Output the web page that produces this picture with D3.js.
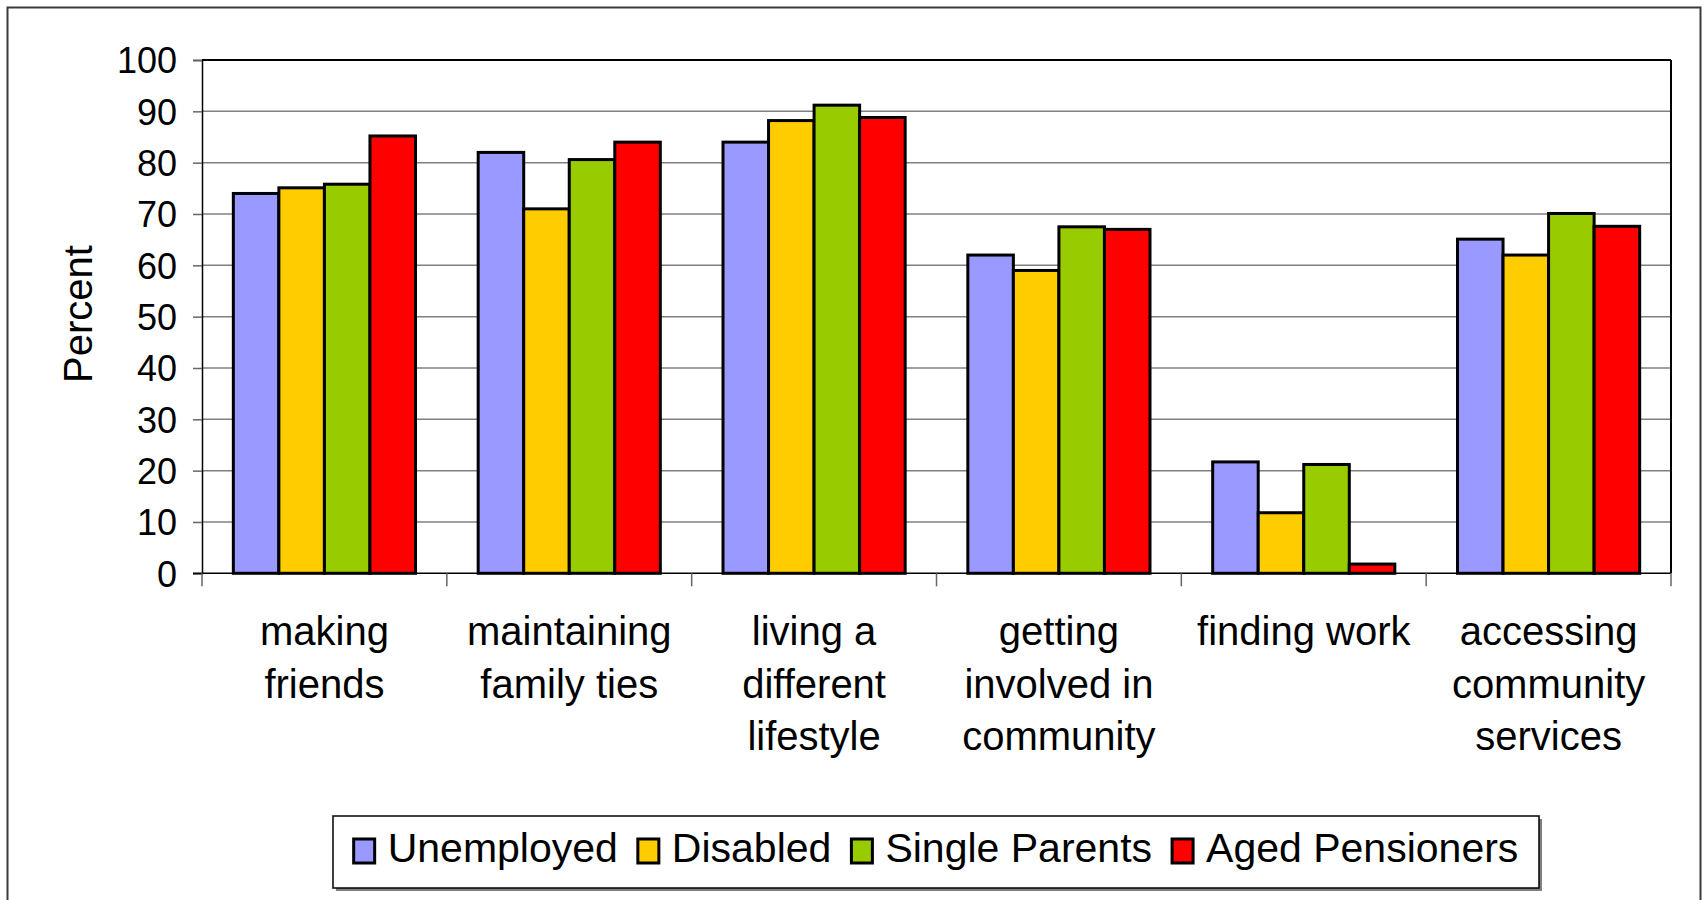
<!DOCTYPE html>
<html>
<head>
<meta charset="utf-8">
<script src="https://cdn.jsdelivr.net/npm/d3@7/dist/d3.min.js"></script>
<style>
  html, body { margin: 0; padding: 0; background: #fff; }
  svg { display: block; }
  text { font-family: "Liberation Sans", Arial, sans-serif; fill: #000; }
</style>
</head>
<body>
<svg id="chart" width="1703" height="900"></svg>
<script>
const categories = [
  ["making", "friends"],
  ["maintaining", "family ties"],
  ["living a", "different", "lifestyle"],
  ["getting", "involved in", "community"],
  ["finding work"],
  ["accessing", "community", "services"]
];
const seriesNames = ["Unemployed", "Disabled", "Single Parents", "Aged Pensioners"];
const seriesColors = ["#9999FF", "#FFCC00", "#99CC00", "#FF0000"];
const unemployed    = [74.0, 82.0, 84.0, 62.0, 21.7, 65.1];
const disabled      = [75.1, 71.0, 88.2, 59.0, 11.8, 62.0];
const singleParents = [75.8, 80.6, 91.2, 67.5, 21.2, 70.1];
const agedPensioners= [85.2, 84.0, 88.8, 67.0, 1.8, 67.6];
const yTicks = [0, 10, 20, 30, 40, 50, 60, 70, 80, 90, 100];

const seriesValues = [unemployed, disabled, singleParents, agedPensioners];
const catKeys = categories.map(c => c.join(" "));

const svg = d3.select("#chart");
const plot = { left: 202, right: 1671, top: 60, bottom: 573.3 };

// outer border
svg.append("rect")
  .attr("x", 7.5).attr("y", 7.5)
  .attr("width", 1693).attr("height", 900)
  .attr("fill", "#fff").attr("stroke", "#3a3a3a").attr("stroke-width", 2);

const x0 = d3.scaleBand().domain(catKeys).range([plot.left, plot.right]).padding(0);
const bw = x0.bandwidth();
const pad = bw * 0.128;
const x1 = d3.scaleBand().domain(seriesNames).range([pad, bw - pad]).padding(0);
const y = d3.scaleLinear().domain([0, 100]).range([plot.bottom, plot.top]);

// gridlines
svg.append("g").selectAll("line").data(yTicks.filter(t => t > 0 && t < 100)).join("line")
  .attr("x1", plot.left).attr("x2", plot.right)
  .attr("y1", d => y(d)).attr("y2", d => y(d))
  .attr("stroke", "#808080").attr("stroke-width", 1.5);

// plot border top / right
svg.append("line").attr("x1", plot.left).attr("x2", plot.right)
  .attr("y1", y(100)).attr("y2", y(100)).attr("stroke", "#000").attr("stroke-width", 2);
svg.append("line").attr("x1", plot.right).attr("x2", plot.right)
  .attr("y1", y(100)).attr("y2", y(0)).attr("stroke", "#000").attr("stroke-width", 2);

// y axis
const yAxis = d3.axisLeft(y).tickValues(yTicks).tickSize(9).tickPadding(16).tickFormat(d3.format("d"));
const gy = svg.append("g").attr("transform", `translate(${plot.left},0)`).call(yAxis);
gy.select(".domain").attr("stroke", "#000").attr("stroke-width", 1.5);
gy.selectAll(".tick line").attr("stroke", "#666").attr("stroke-width", 1.5);
gy.selectAll(".tick text").attr("font-size", 36).attr("font-family", '"Liberation Sans", Arial, sans-serif').attr("dy", "0.36em");

// bars
const groups = svg.append("g").selectAll("g").data(catKeys).join("g")
  .attr("transform", d => `translate(${x0(d)},0)`);
groups.selectAll("rect").data((d, i) => seriesNames.map((s, j) => ({ s, j, v: seriesValues[j][i] }))).join("rect")
  .attr("x", d => x1(d.s))
  .attr("width", x1.bandwidth())
  .attr("y", d => y(d.v))
  .attr("height", d => y(0) - y(d.v))
  .attr("fill", d => seriesColors[d.j])
  .attr("stroke", "#000").attr("stroke-width", 3);

// x axis baseline and ticks at band boundaries
svg.append("line").attr("x1", plot.left - 9).attr("x2", plot.right)
  .attr("y1", y(0)).attr("y2", y(0)).attr("stroke", "#000").attr("stroke-width", 1.5);
const boundaries = catKeys.map(k => x0(k)).concat([x0.range()[1]]);
svg.append("g").selectAll("line").data(boundaries).join("line")
  .attr("x1", d => d).attr("x2", d => d)
  .attr("y1", y(0)).attr("y2", y(0) + 13)
  .attr("stroke", "#666").attr("stroke-width", 1.5);

// category labels
const labG = svg.append("g");
categories.forEach((lines, i) => {
  const cx = x0(catKeys[i]) + bw / 2;
  const t = labG.append("text").attr("text-anchor", "middle").attr("font-size", 40);
  lines.forEach((ln, k) => {
    t.append("tspan").attr("x", cx).attr("y", 645 + k * 52.6).text(ln);
  });
});

// y axis title
svg.append("text")
  .attr("transform", `translate(92,314) rotate(-90)`)
  .attr("text-anchor", "middle").attr("font-size", 40).text("Percent");

// legend
const lg = { x: 333, y: 816, w: 1206, h: 72 };
svg.append("rect").attr("x", lg.x + 3).attr("y", lg.y + 3).attr("width", lg.w).attr("height", lg.h)
  .attr("fill", "#808080");
svg.append("rect").attr("x", lg.x).attr("y", lg.y).attr("width", lg.w).attr("height", lg.h)
  .attr("fill", "#fff").attr("stroke", "#000").attr("stroke-width", 1.5);

const legendG = svg.append("g");
const items = legendG.selectAll("g").data(seriesNames).join("g");
const swW = 21, swH = 24, gapSwText = 13, gapItem = 20;
items.append("rect").attr("width", swW).attr("height", swH)
  .attr("fill", (d, i) => seriesColors[i]).attr("stroke", "#000").attr("stroke-width", 3);
items.append("text").attr("x", swW + gapSwText).attr("y", swH - 1).attr("font-size", 41).text(d => d);
let widths = [];
items.each(function() { widths.push(this.getBBox().width); });
const total = d3.sum(widths) + gapItem * (widths.length - 1);
let cur = lg.x + (lg.w - total) / 2;
items.attr("transform", (d, i) => {
  const tx = cur; cur += widths[i] + gapItem;
  return `translate(${tx},${839})`;
});
</script>
</body>
</html>
